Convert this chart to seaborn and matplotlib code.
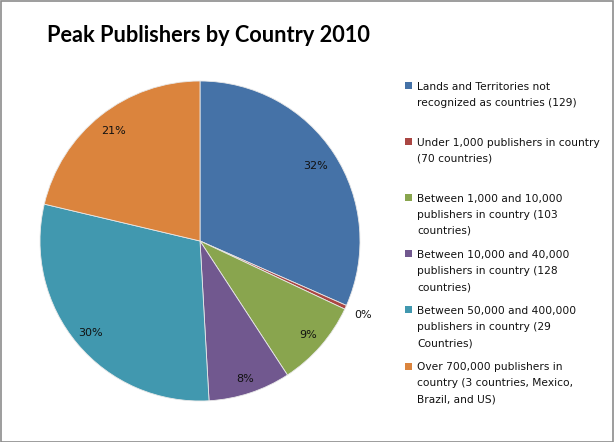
import matplotlib
matplotlib.use("Agg")
import matplotlib.pyplot as plt
from matplotlib.patches import Rectangle
import numpy as np
import seaborn as sns

# pie data (share of peak publishers, %)
categories = [
    "Lands and Territories not\nrecognized as countries (129)",
    "Under 1,000 publishers in country\n(70 countries)",
    "Between 1,000 and 10,000\npublishers in country (103\ncountries)",
    "Between 10,000 and 40,000\npublishers in country (128\ncountries)",
    "Between 50,000 and 400,000\npublishers in country (29\nCountries)",
    "Over 700,000 publishers in\ncountry (3 countries, Mexico,\nBrazil, and US)",
]
values = [31.6, 0.4, 8.8, 8.3, 29.6, 21.3]
colors = ["#4572A7", "#AA4643", "#89A54E", "#71588F", "#4198AF", "#DB843D"]
# distance of each percent label from the centre (fraction of radius)
label_r = [0.86, 1.12, 0.895, 0.91, 0.895, 0.875]

sns.set_theme(style="white")
plt.rcParams['font.family'] = ['DejaVu Sans']
palette = sns.color_palette(colors)

W, H = 614, 442
fig = plt.figure(figsize=(W / 100, H / 100), dpi=100)
fig.patch.set_facecolor("white")
fig.patches.append(Rectangle((0.5 / W, 0.5 / H), 1 - 1.5 / W, 1 - 1.5 / H,
                             transform=fig.transFigure, fill=False,
                             edgecolor="#8c8c8c", linewidth=1.2))

ax = fig.add_axes([40 / W, 41 / H, 320 / W, 320 / H])
wedges, texts, autotexts = ax.pie(values, colors=palette, startangle=90,
                                  counterclock=False, autopct='%.0f%%',
                                  pctdistance=0.86, radius=1.0,
                                  wedgeprops=dict(edgecolor="#e8e8e8", linewidth=0.6),
                                  textprops=dict(fontsize=8, color="#111111"))
ax.set_xlim(-1, 1)
ax.set_ylim(-1, 1)
ax.set_aspect("equal")
ax.axis("off")

for w, t, r in zip(wedges, autotexts, label_r):
    mid = np.deg2rad((w.theta1 + w.theta2) / 2)
    t.set_position((r * np.cos(mid), r * np.sin(mid)))

fig.text(208.5 / W, 1 - 35 / H, "Peak Publishers by Country 2010", ha="center",
         va="center", fontsize=15.7, fontweight="bold", color="black",
         family=["Lato", "DejaVu Sans"])

# legend drawn by hand to keep Excel-like spacing
y0 = 85
for i, (lab, c) in enumerate(zip(categories, palette)):
    y = y0 + i * 56.2
    fig.patches.append(Rectangle((404.5 / W, 1 - (y + 3.5) / H), 7 / W, 7 / H,
                                 transform=fig.transFigure, facecolor=c,
                                 edgecolor="none"))
    fig.text(417 / W, 1 - (y - 3.5) / H, lab, ha="left", va="top", fontsize=7.7,
             color="#111111", linespacing=1.75)

fig.savefig("out.png", dpi=100)
plt.close(fig)
